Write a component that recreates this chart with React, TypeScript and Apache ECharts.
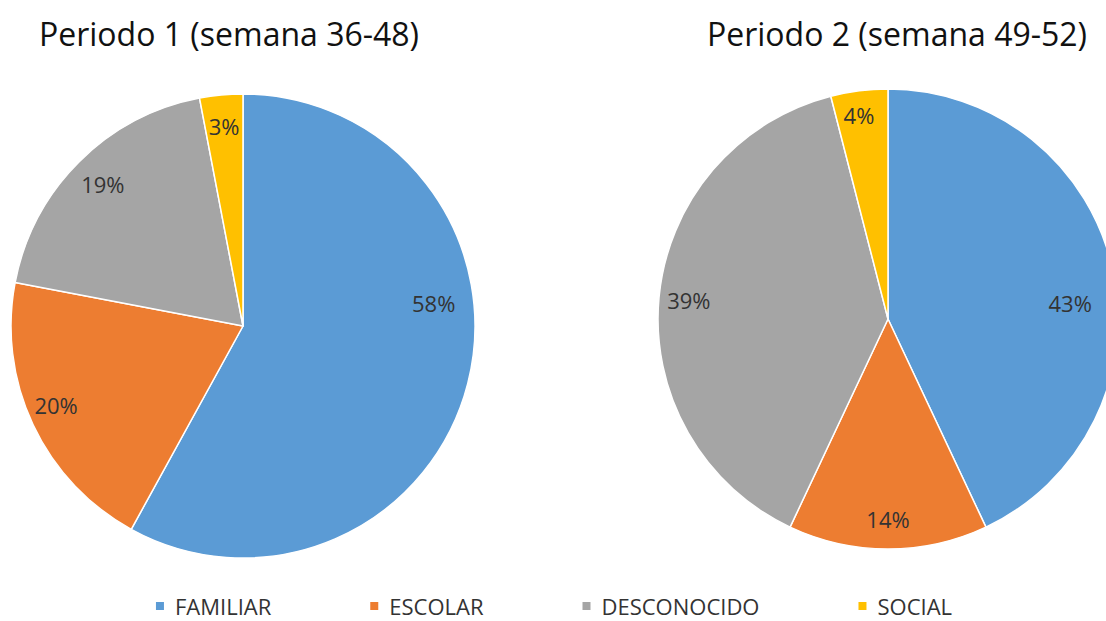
import React, { useEffect, useRef } from "react";
import * as echarts from "echarts";

const categories = ["FAMILIAR", "ESCOLAR", "DESCONOCIDO", "SOCIAL"];
const colors = ["#5B9BD5", "#ED7D31", "#A5A5A5", "#FFC000"];
const period1Values = [58, 20, 19, 3];
const period2Values = [43, 14, 39, 4];
const titles = ["Periodo 1 (semana 36-48)", "Periodo 2 (semana 49-52)"];

// label nudges (Excel "best fit" placement), style only
const labelNudge1: [number, number][] = [[-4, -73], [-5, -7], [2, 0], [0, 0]];
const labelNudge2: [number, number][] = [[-13, 28], [0, 0], [0, 0], [-4, -6]];

const FONT = "'Open Sans', 'Noto Sans', sans-serif";

function pieSeries(
  values: number[],
  center: [number, number],
  r: number,
  r0: number,
  nudges: [number, number][]
) {
  return [
    {
      type: "pie",
      center,
      radius: r,
      startAngle: 90,
      clockwise: true,
      silent: true,
      label: { show: false },
      labelLine: { show: false },
      itemStyle: { borderColor: "#ffffff", borderWidth: 1.5 },
      data: categories.map((name, i) => ({
        name,
        value: values[i],
        itemStyle: { color: colors[i] },
      })),
    },
    {
      type: "pie",
      center,
      radius: [r0, r],
      startAngle: 90,
      clockwise: true,
      silent: true,
      legendHoverLink: false,
      labelLine: { show: false },
      itemStyle: { color: "rgba(0,0,0,0)", borderWidth: 0 },
      label: {
        show: true,
        position: "inside",
        formatter: "{c}%",
        fontFamily: FONT,
        fontSize: 22,
        color: "#333333",
      },
      data: categories.map((name, i) => ({
        name,
        value: values[i],
        itemStyle: { color: "rgba(0,0,0,0)" },
        label: { offset: nudges[i] },
      })),
    },
  ];
}

export default function App() {
  const ref = useRef<HTMLDivElement>(null);
  useEffect(() => {
    if (!ref.current) return;
    const chart = echarts.init(ref.current, null, { renderer: "svg" });
    chart.setOption({
      animation: false,
      backgroundColor: "#ffffff",
      graphic: [
        {
          type: "text",
          x: 229,
          y: 33,
          style: {
            text: titles[0],
            font: `32px ${FONT}`,
            fill: "#111111",
            align: "center",
            verticalAlign: "middle",
          },
        },
        {
          type: "text",
          x: 897,
          y: 33,
          style: {
            text: titles[1],
            font: `32px ${FONT}`,
            fill: "#111111",
            align: "center",
            verticalAlign: "middle",
          },
        },
      ],
      legend: {
        left: "center",
        top: 595,
        padding: 0,
        icon: "rect",
        itemWidth: 10,
        itemHeight: 10,
        itemGap: 97,
        selectedMode: false,
        textStyle: {
          fontFamily: FONT,
          fontSize: 22,
          lineHeight: 20,
          color: "#333333",
          padding: [0, 0, 0, 5],
        },
        data: categories.map((name, i) => ({ name, itemStyle: { color: colors[i] } })),
      },
      series: [
        ...pieSeries(period1Values, [243, 326], 232, 164, labelNudge1),
        ...pieSeries(period2Values, [888, 319], 230, 164, labelNudge2),
      ],
    });
    return () => chart.dispose();
  }, []);
  return (
    <div
      ref={ref}
      style={{ position: "fixed", left: 0, top: 0, width: 1106, height: 621 }}
    />
  );
}
